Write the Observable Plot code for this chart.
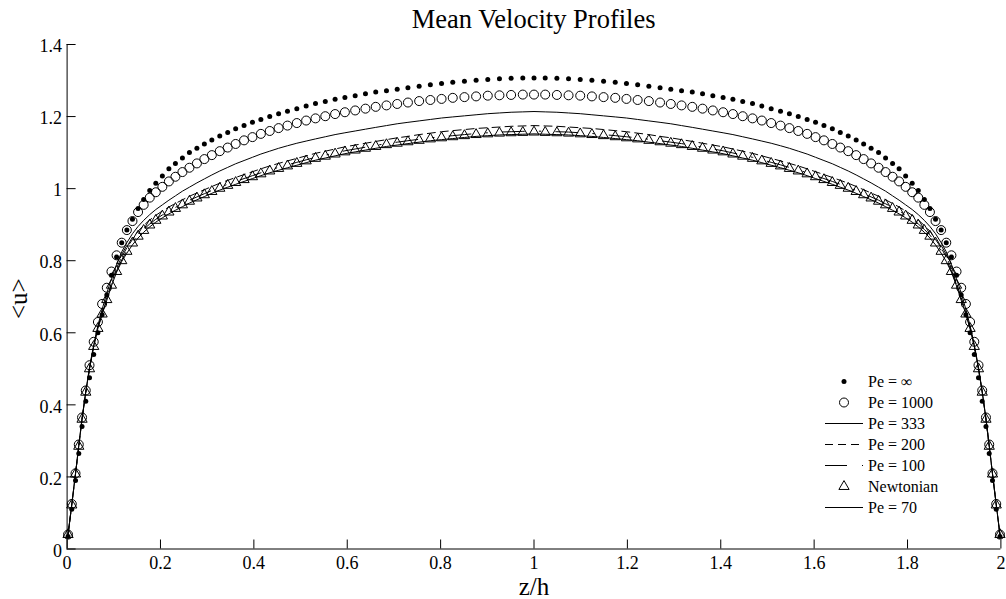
<!DOCTYPE html>
<html><head><meta charset="utf-8">
<script src="https://cdn.jsdelivr.net/npm/d3@7"></script>
<script src="https://cdn.jsdelivr.net/npm/@observablehq/plot@0.6"></script>
<style>
html,body{margin:0;padding:0;background:#fff;overflow:hidden;}
#wrap{position:relative;width:1006px;height:599px;font-family:"Liberation Serif","Times New Roman",serif;color:#000;}
#title{position:absolute;left:66.6px;width:934px;top:0;height:34px;box-sizing:border-box;padding-top:2px;line-height:34px;font-size:26.5px;text-align:center;}
#chart{position:absolute;left:0;top:34px;}
#legend{position:absolute;left:0;top:0;pointer-events:none;}
</style></head>
<body>
<div id="wrap">
  <div id="title">Mean Velocity Profiles</div>
  <div id="chart"></div>
  <svg id="legend" width="1006" height="599"></svg>
</div>
<script>
// ---- data ----
const titleText = "Mean Velocity Profiles";
const xLabel = "z/h";
const yLabel = "<u>";
const xTicks = [0, 0.2, 0.4, 0.6, 0.8, 1, 1.2, 1.4, 1.6, 1.8, 2];
const yTicks = [0, 0.2, 0.4, 0.6, 0.8, 1, 1.2, 1.4];

const zGrid = [0.002,0.010,0.018,0.025,0.032,0.040,0.048,0.057,0.066,0.075,0.085,0.095,0.106,0.117,0.128,0.140,0.152,0.164,0.177,0.190,0.204,0.218,0.232,0.247,0.262,0.278,0.294,0.310,0.327,0.344,0.361,0.379,0.397,0.415,0.434,0.453,0.472,0.492,0.512,0.532,0.553,0.574,0.595,0.617,0.639,0.661,0.684,0.707,0.730,0.754,0.778,0.802,0.826,0.851,0.876,0.901,0.926,0.951,0.976,1.000,
1.024,1.049,1.074,1.099,1.124,1.149,1.174,1.198,1.222,1.246,1.270,1.293,1.316,1.339,1.361,1.383,1.405,1.426,1.447,1.468,1.488,1.508,1.528,1.547,1.566,1.585,1.603,1.621,1.639,1.656,1.673,1.690,1.706,1.722,1.738,1.753,1.768,1.782,1.796,1.810,1.823,1.836,1.848,1.860,1.872,1.883,1.894,1.905,1.915,1.925,1.934,1.943,1.952,1.960,1.968,1.975,1.982,1.990,1.998];

const uPeInf = [0.035,0.110,0.190,0.265,0.340,0.410,0.475,0.540,0.600,0.650,0.705,0.760,0.810,0.850,0.885,0.915,0.945,0.970,0.995,1.015,1.035,1.055,1.070,1.085,1.100,1.112,1.124,1.135,1.146,1.156,1.166,1.175,1.184,1.192,1.200,1.208,1.215,1.222,1.229,1.236,1.242,1.248,1.253,1.258,1.263,1.268,1.272,1.276,1.280,1.284,1.288,1.292,1.295,1.298,1.301,1.303,1.305,1.306,1.307,1.307,
1.307,1.306,1.305,1.303,1.301,1.298,1.295,1.292,1.288,1.284,1.280,1.276,1.272,1.268,1.263,1.258,1.253,1.248,1.242,1.236,1.229,1.222,1.215,1.208,1.200,1.192,1.184,1.175,1.166,1.156,1.146,1.135,1.124,1.112,1.100,1.085,1.070,1.055,1.035,1.015,0.995,0.970,0.945,0.915,0.885,0.850,0.810,0.760,0.705,0.650,0.600,0.540,0.475,0.410,0.340,0.265,0.190,0.110,0.035];

const uPe1000 = [0.040,0.125,0.210,0.290,0.365,0.440,0.510,0.575,0.630,0.680,0.725,0.770,0.815,0.850,0.885,0.910,0.935,0.955,0.975,0.990,1.005,1.020,1.033,1.046,1.058,1.070,1.082,1.093,1.104,1.114,1.124,1.134,1.143,1.152,1.160,1.168,1.175,1.182,1.189,1.195,1.201,1.207,1.212,1.217,1.222,1.227,1.231,1.235,1.239,1.243,1.246,1.249,1.252,1.254,1.256,1.258,1.259,1.260,1.261,1.261,
1.261,1.260,1.259,1.258,1.256,1.254,1.252,1.249,1.246,1.243,1.239,1.235,1.231,1.227,1.222,1.217,1.212,1.207,1.201,1.195,1.189,1.182,1.175,1.168,1.160,1.152,1.143,1.134,1.124,1.114,1.104,1.093,1.082,1.070,1.058,1.046,1.033,1.020,1.005,0.990,0.975,0.955,0.935,0.910,0.885,0.850,0.815,0.770,0.725,0.680,0.630,0.575,0.510,0.440,0.365,0.290,0.210,0.125,0.040];

const uPe333 = [0.040,0.125,0.210,0.288,0.363,0.437,0.505,0.567,0.620,0.665,0.710,0.750,0.790,0.825,0.850,0.875,0.895,0.912,0.928,0.942,0.955,0.968,0.980,0.993,1.004,1.016,1.027,1.038,1.049,1.059,1.069,1.078,1.087,1.096,1.104,1.112,1.119,1.126,1.132,1.138,1.144,1.150,1.155,1.160,1.165,1.170,1.175,1.180,1.184,1.188,1.192,1.196,1.199,1.202,1.205,1.208,1.210,1.212,1.213,1.214,
1.213,1.212,1.210,1.208,1.205,1.202,1.199,1.196,1.192,1.188,1.184,1.180,1.175,1.170,1.165,1.160,1.155,1.150,1.144,1.138,1.132,1.126,1.119,1.112,1.104,1.096,1.087,1.078,1.069,1.059,1.049,1.038,1.027,1.016,1.004,0.993,0.980,0.968,0.955,0.942,0.928,0.912,0.895,0.875,0.850,0.825,0.790,0.750,0.710,0.665,0.620,0.567,0.505,0.437,0.363,0.288,0.210,0.125,0.040];

const uPe200 = [0.040,0.122,0.208,0.285,0.360,0.435,0.500,0.562,0.617,0.657,0.697,0.737,0.780,0.810,0.836,0.859,0.882,0.898,0.913,0.926,0.938,0.949,0.959,0.969,0.979,0.988,0.997,1.006,1.015,1.023,1.031,1.039,1.047,1.055,1.063,1.070,1.077,1.084,1.091,1.098,1.104,1.110,1.116,1.121,1.126,1.131,1.136,1.141,1.145,1.150,1.154,1.158,1.161,1.164,1.167,1.169,1.171,1.173,1.174,1.175,
1.174,1.173,1.171,1.169,1.167,1.164,1.161,1.158,1.154,1.150,1.145,1.141,1.136,1.131,1.126,1.121,1.116,1.110,1.104,1.098,1.091,1.084,1.077,1.070,1.063,1.055,1.047,1.039,1.031,1.023,1.015,1.006,0.997,0.988,0.979,0.969,0.959,0.949,0.938,0.926,0.913,0.898,0.882,0.859,0.836,0.810,0.780,0.737,0.697,0.657,0.617,0.562,0.500,0.435,0.360,0.285,0.208,0.122,0.040];

const uPe100 = [0.040,0.122,0.208,0.285,0.360,0.435,0.500,0.562,0.612,0.652,0.693,0.733,0.772,0.802,0.828,0.851,0.871,0.887,0.902,0.915,0.927,0.938,0.948,0.958,0.968,0.977,0.986,0.995,1.004,1.012,1.020,1.028,1.036,1.044,1.052,1.059,1.066,1.073,1.080,1.087,1.093,1.099,1.105,1.110,1.115,1.120,1.125,1.129,1.133,1.137,1.141,1.144,1.147,1.150,1.153,1.155,1.157,1.158,1.159,1.160,
1.159,1.158,1.157,1.155,1.153,1.150,1.147,1.144,1.141,1.137,1.133,1.129,1.125,1.120,1.115,1.110,1.105,1.099,1.093,1.087,1.080,1.073,1.066,1.059,1.052,1.044,1.036,1.028,1.020,1.012,1.004,0.995,0.986,0.977,0.968,0.958,0.948,0.938,0.927,0.915,0.902,0.887,0.871,0.851,0.828,0.802,0.772,0.733,0.693,0.652,0.612,0.562,0.500,0.435,0.360,0.285,0.208,0.122,0.040];

const uNewtonian = [0.040,0.122,0.208,0.285,0.360,0.435,0.500,0.562,0.612,0.652,0.692,0.732,0.770,0.800,0.826,0.849,0.868,0.884,0.899,0.912,0.924,0.935,0.945,0.955,0.965,0.974,0.983,0.992,1.001,1.009,1.017,1.025,1.033,1.041,1.049,1.056,1.063,1.070,1.077,1.084,1.090,1.096,1.102,1.107,1.112,1.117,1.122,1.126,1.130,1.134,1.138,1.141,1.144,1.147,1.150,1.152,1.154,1.155,1.156,1.157,
1.156,1.155,1.154,1.152,1.150,1.147,1.144,1.141,1.138,1.134,1.130,1.126,1.122,1.117,1.112,1.107,1.102,1.096,1.090,1.084,1.077,1.070,1.063,1.056,1.049,1.041,1.033,1.025,1.017,1.009,1.001,0.992,0.983,0.974,0.965,0.955,0.945,0.935,0.924,0.912,0.899,0.884,0.868,0.849,0.826,0.800,0.770,0.732,0.692,0.652,0.612,0.562,0.500,0.435,0.360,0.285,0.208,0.122,0.040];

const uPe70 = [0.040,0.122,0.208,0.285,0.360,0.435,0.500,0.562,0.612,0.652,0.690,0.730,0.768,0.798,0.821,0.844,0.863,0.879,0.894,0.907,0.919,0.930,0.940,0.950,0.960,0.969,0.978,0.987,0.996,1.004,1.012,1.020,1.028,1.036,1.044,1.051,1.058,1.065,1.072,1.079,1.085,1.091,1.097,1.102,1.107,1.112,1.117,1.121,1.125,1.129,1.133,1.136,1.139,1.142,1.145,1.147,1.149,1.150,1.151,1.152,
1.151,1.150,1.149,1.147,1.145,1.142,1.139,1.136,1.133,1.129,1.125,1.121,1.117,1.112,1.107,1.102,1.097,1.091,1.085,1.079,1.072,1.065,1.058,1.051,1.044,1.036,1.028,1.020,1.012,1.004,0.996,0.987,0.978,0.969,0.960,0.950,0.940,0.930,0.919,0.907,0.894,0.879,0.863,0.844,0.821,0.798,0.768,0.730,0.690,0.652,0.612,0.562,0.500,0.435,0.360,0.285,0.208,0.122,0.040];

const seriesNames = ["Pe = \u221E", "Pe = 1000", "Pe = 333", "Pe = 200", "Pe = 100", "Newtonian", "Pe = 70"];

// ---- build ----
function rowsOf(vals) {
  const n = Math.min(vals.length, zGrid.length);
  const out = [];
  for (let i = 0; i < n; i++) out.push({z: zGrid[i], u: vals[i]});
  return out;
}
const sInf = rowsOf(uPeInf), s1000 = rowsOf(uPe1000), s333 = rowsOf(uPe333),
      s200 = rowsOf(uPe200), s100 = rowsOf(uPe100), sNewt = rowsOf(uNewtonian), s70 = rowsOf(uPe70);

const W = 1006, H = 565;
const mL = 66.6, mR = 5.6, mT = 10, mB = 50.5;
const innerW = W - mL - mR, innerH = H - mT - mB;
const fmt = d3.format("~g");
const FONT = '"Liberation Serif","Times New Roman",serif';

const triR = 3.8, circR = 4.5, dotR = 2.5;
const dash200 = "8,5", dash100 = "22,15,1.5,15";

const chart = Plot.plot({
  width: W, height: H,
  marginLeft: mL, marginRight: mR, marginTop: mT, marginBottom: mB,
  style: {fontFamily: FONT, fontSize: "18px", color: "#000", background: "#fff", overflow: "visible"},
  x: {domain: [0, 2], label: null},
  y: {domain: [0, 1.4], label: null},
  marks: [
    Plot.line(s70, {x: "z", y: "u", stroke: "#000", strokeWidth: 1}),
    Plot.line(s100, {x: "z", y: "u", stroke: "#000", strokeWidth: 1, strokeDasharray: dash100}),
    Plot.line(s200, {x: "z", y: "u", stroke: "#000", strokeWidth: 1, strokeDasharray: dash200}),
    Plot.line(s333, {x: "z", y: "u", stroke: "#000", strokeWidth: 1}),
    Plot.dot(sNewt, {x: "z", y: "u", symbol: "triangle", r: triR, stroke: "#000", fill: "none", strokeWidth: 1}),
    Plot.dot(s1000, {x: "z", y: "u", symbol: "circle", r: circR, stroke: "#000", fill: "none", strokeWidth: 1}),
    Plot.dot(sInf, {x: "z", y: "u", symbol: "circle", r: dotR, fill: "#000", stroke: "none"}),
    Plot.ruleX([0], {stroke: "#000", strokeWidth: 1}),
    Plot.ruleY([0], {stroke: "#000", strokeWidth: 1}),
    Plot.tickX(xTicks, {x: d => d, insetTop: innerH - 9, stroke: "#000"}),
    Plot.tickY(yTicks, {y: d => d, insetRight: innerW - 9, stroke: "#000"}),
    Plot.axisX({ticks: xTicks, tickSize: 0, tickPadding: 7, tickFormat: fmt, label: null, fill: "#000", fontSize: 18}),
    Plot.axisY({ticks: yTicks, tickSize: 0, tickPadding: 5, tickFormat: fmt, label: null, fill: "#000", fontSize: 18, dy: 2}),
    Plot.text([xLabel], {text: d => d, frameAnchor: "bottom", lineAnchor: "middle", textAnchor: "middle", dy: 38, fontSize: 25, fill: "#000"}),
    Plot.text([yLabel], {text: d => d, frameAnchor: "left", lineAnchor: "middle", textAnchor: "middle", dx: -48.6, dy: 2, rotate: -90, fontSize: 25, fill: "#000"})
  ]
});
document.getElementById("chart").appendChild(chart);
document.getElementById("title").textContent = titleText;

// ---- legend ----
const lg = d3.select("#legend");
const legendKinds = ["dot", "circle", "solid", "dash200", "dash100", "triangle", "solid"];
const lx0 = 825, lx1 = 863, lmx = 844, ltx = 868, ly0 = 381.5, lstep = 21;
seriesNames.forEach((name, i) => {
  const cy = ly0 + i * lstep;
  const k = legendKinds[i];
  if (k === "dot") {
    lg.append("circle").attr("cx", lmx).attr("cy", cy).attr("r", dotR).attr("fill", "#000");
  } else if (k === "circle") {
    lg.append("circle").attr("cx", lmx).attr("cy", cy).attr("r", circR).attr("fill", "none").attr("stroke", "#000");
  } else if (k === "triangle") {
    lg.append("path").attr("transform", `translate(${lmx},${cy})`)
      .attr("d", d3.symbol(d3.symbolTriangle, triR * triR * Math.PI)())
      .attr("fill", "none").attr("stroke", "#000");
  } else {
    const ln = lg.append("line").attr("x1", lx0).attr("x2", lx1).attr("y1", cy).attr("y2", cy).attr("stroke", "#000");
    if (k === "dash200") ln.attr("stroke-dasharray", dash200);
    if (k === "dash100") ln.attr("stroke-dasharray", dash100);
  }
  lg.append("text").attr("x", ltx).attr("y", cy + 5.5).attr("font-family", FONT).attr("font-size", 16).attr("fill", "#000").text(name);
});
</script>
</body></html>
